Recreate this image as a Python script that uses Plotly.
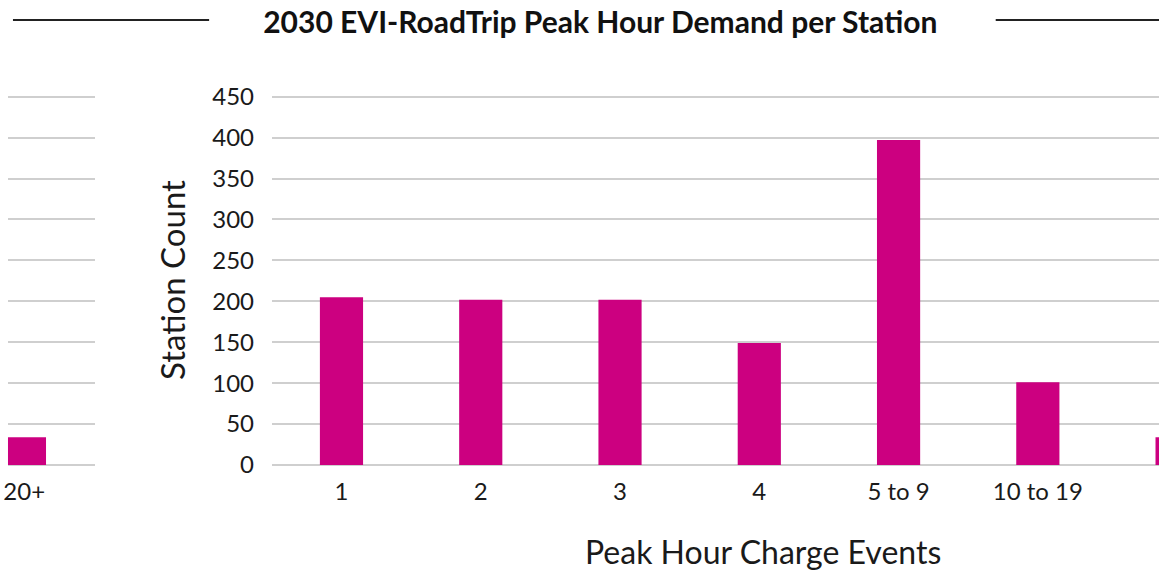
import plotly.graph_objects as go

# data
categories = ['1', '2', '3', '4', '5 to 9', '10 to 19', '20+']
station_count = [205, 202, 202, 149, 397, 101, 34]
y_ticks = [0, 50, 100, 150, 200, 250, 300, 350, 400, 450]

TITLE = '2030 EVI-RoadTrip Peak Hour Demand per Station'
X_TITLE = 'Peak Hour Charge Events'
BAR_COLOR = '#CC0080'
GRID_COLOR = '#CFCFCF'
FONT = 'Lato'

W, H = 1159, 571
TOP, BOTTOM = 95, 106
Y_MAX = 452

fig = go.Figure()

# main chart
fig.add_trace(go.Bar(x=categories, y=station_count, marker_color=BAR_COLOR,
                     marker_line_width=0, width=0.31, xaxis='x', yaxis='y',
                     showlegend=False))
# wrapped strip on the left that repeats the tail of the axis
fig.add_trace(go.Bar(x=categories, y=station_count, marker_color=BAR_COLOR,
                     marker_line_width=0, width=0.31, xaxis='x2', yaxis='y2',
                     showlegend=False))

fig.update_layout(
    width=W, height=H,
    margin=dict(l=0, r=0, t=TOP, b=BOTTOM),
    plot_bgcolor='white', paper_bgcolor='white',
    font=dict(family=FONT, size=24, color='#1a1a1a'),
    xaxis=dict(domain=[268 / W, 1], range=[-0.5, 5.87], type='category',
               categoryorder='array', categoryarray=categories,
               showgrid=False, showline=False,
               ticks='outside', ticklen=5, tickcolor='rgba(0,0,0,0)',
               tickfont=dict(size=24)),
    yaxis=dict(range=[0, Y_MAX], tickvals=y_ticks, showgrid=True,
               gridcolor=GRID_COLOR, gridwidth=2,
               zeroline=True, zerolinecolor=GRID_COLOR, zerolinewidth=2,
               ticks='outside', ticklen=12, tickcolor='rgba(0,0,0,0)',
               tickfont=dict(size=24),
               title=dict(text='Station Count', font=dict(size=33), standoff=16)),
    xaxis2=dict(domain=[3 / W, 90 / W], range=[5.885, 6.5], type='category',
                categoryorder='array', categoryarray=categories,
                showgrid=False, showline=False, anchor='y2',
                ticks='outside', ticklen=5, tickcolor='rgba(0,0,0,0)',
                tickfont=dict(size=24)),
    yaxis2=dict(range=[0, Y_MAX], tickvals=y_ticks, showgrid=True,
                gridcolor=GRID_COLOR, gridwidth=2,
                zeroline=True, zerolinecolor=GRID_COLOR, zerolinewidth=2,
                showticklabels=False, anchor='x2', overlaying='y'),
    title=dict(text='<b>' + TITLE + '</b>', x=0.518, xanchor='center',
               y=1 - 22 / H, yanchor='middle',
               font=dict(family=FONT, size=30, color='#111111')),
)

plot_h = H - TOP - BOTTOM

# x axis title, sitting where the original put it
fig.add_annotation(text=X_TITLE, xref='paper', yref='paper',
                   x=761 / W, y=-(551 - (H - BOTTOM)) / plot_h,
                   xanchor='center', yanchor='middle', showarrow=False,
                   font=dict(family=FONT, size=32, color='#1a1a1a'))

# rule under the title
rule_y = 1 + (TOP - 20) / plot_h
for x0, x1 in [(8, 205), (995, W)]:
    fig.add_shape(type='line', xref='paper', yref='paper',
                  x0=x0 / W, x1=x1 / W, y0=rule_y, y1=rule_y,
                  line=dict(color='#222222', width=2))

fig.write_html('out.html', config={'displayModeBar': False},
               post_script="document.body.style.margin='0';")
